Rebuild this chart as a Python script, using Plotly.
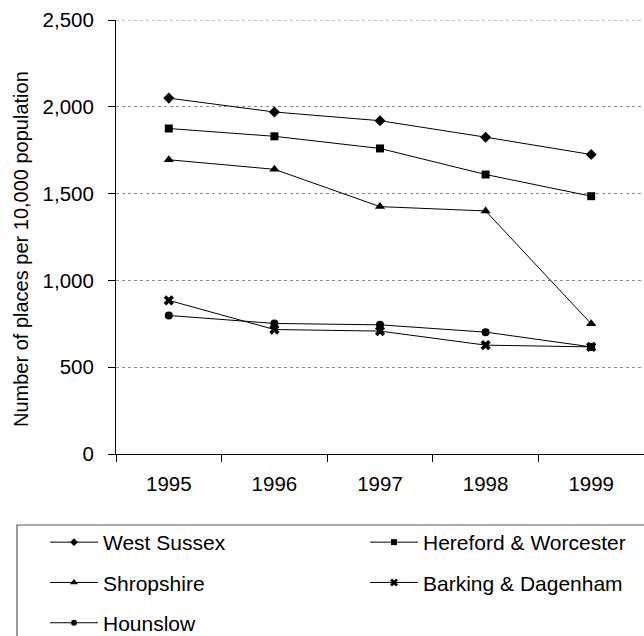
import plotly.graph_objects as go

years = ["1995", "1996", "1997", "1998", "1999"]

west_sussex = [2050, 1970, 1920, 1825, 1725]
hereford_worcester = [1875, 1830, 1760, 1610, 1485]
shropshire = [1695, 1640, 1425, 1400, 750]
barking_dagenham = [885, 717, 708, 627, 617]
hounslow = [798, 752, 744, 702, 617]

y_ticks = [0, 500, 1000, 1500, 2000, 2500]

FONT = "Liberation Sans, Arial, sans-serif"

# (name, values, marker symbol, marker size, legend size, legend id, group)
series = [
    ("West Sussex", west_sussex, "diamond", 8.5, 6, "legend", "a"),
    ("Hereford & Worcester", hereford_worcester, "square", 8, 6, "legend2", "b"),
    ("Shropshire", shropshire, "triangle-up", 9, 7, "legend", "c"),
    ("Barking & Dagenham", barking_dagenham, "x", 9, 7, "legend2", "d"),
    ("Hounslow", hounslow, "circle", 8, 6, "legend", "e"),
]

fig = go.Figure()
for name, vals, sym, size, lsize, leg, grp in series:
    fig.add_trace(go.Scatter(
        x=years, y=vals, name=name, mode="lines+markers",
        line=dict(color="black", width=1),
        marker=dict(symbol=sym, size=size, color="black", line=dict(width=0)),
        showlegend=False, legendgroup=grp,
    ))
    # legend key with the smaller symbol used in the key box
    fig.add_trace(go.Scatter(
        x=[None], y=[None], name=name, mode="lines+markers",
        line=dict(color="black", width=1),
        marker=dict(symbol=sym, size=lsize, color="black", line=dict(width=0)),
        legend=leg, legendgroup=grp,
    ))

W, H = 644, 636
ML, MR, MT, MB = 116, 0, 20, 182
pw, ph = W - ML - MR, H - MT - MB


def px_x(p):
    return (p - ML) / pw


def px_y(p):
    return (H - MB - p) / ph


legend_common = dict(
    orientation="v", traceorder="grouped", tracegroupgap=10,
    font=dict(family=FONT, size=21, color="black"),
    bgcolor="rgba(0,0,0,0)", borderwidth=0, itemwidth=48,
    xanchor="left", yanchor="top", y=px_y(522),
)

fig.update_layout(
    width=W, height=H, autosize=False,
    margin=dict(l=ML, r=MR, t=MT, b=MB, pad=0, autoexpand=False),
    paper_bgcolor="white", plot_bgcolor="white",
    font=dict(family=FONT, size=20.5, color="black"),
    showlegend=True,
    legend=dict(legend_common, x=px_x(45)),
    legend2=dict(legend_common, x=px_x(365)),
    xaxis=dict(
        type="category", range=[-0.5, 4.5],
        showline=True, linecolor="black", linewidth=1,
        ticks="outside", tickson="boundaries", ticklen=7, tickcolor="black",
        showgrid=False, ticklabelstandoff=11,
        tickfont=dict(family=FONT, size=20.5, color="black"),
    ),
    yaxis=dict(
        range=[0, 2500], tickvals=y_ticks, tickformat=",",
        showline=True, linecolor="black", linewidth=1,
        ticks="outside", ticklen=7, tickcolor="black",
        showgrid=True, gridcolor="#8c8c8c", griddash="dot", gridwidth=1,
        zeroline=False, ticklabelstandoff=10,
        tickfont=dict(family=FONT, size=20.5, color="black"),
    ),
    shapes=[
        dict(
            type="rect", xref="paper", yref="paper",
            x0=px_x(17), x1=1.05, y0=px_y(525), y1=-0.5,
            line=dict(color="#555555", width=1.2), fillcolor="rgba(0,0,0,0)",
            layer="below",
        ),
        # top gridline along the upper edge of the plot area
        dict(
            type="line", xref="paper", yref="y",
            x0=0, x1=1, y0=y_ticks[-1], y1=y_ticks[-1],
            line=dict(color="#8c8c8c", width=1, dash="dot"), layer="below",
        ),
    ],
    annotations=[dict(
        text="Number of places per 10,000 population",
        xref="paper", yref="paper", x=px_x(21), y=px_y(249),
        textangle=-90, showarrow=False, xanchor="center", yanchor="middle",
        font=dict(family=FONT, size=20, color="black"),
    )],
)

fig.write_html("out.html")
